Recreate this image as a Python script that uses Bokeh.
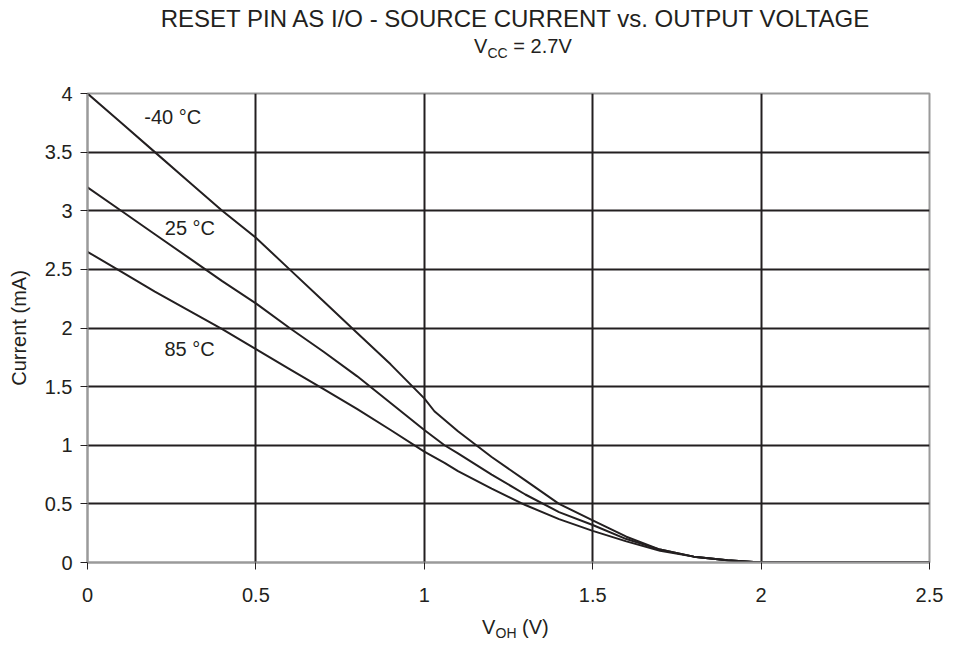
from bokeh.plotting import figure
from bokeh.models import Label, FixedTicker, Range1d, Div
from bokeh.layouts import column
from bokeh.embed import file_html
from bokeh.resources import INLINE

# ---- data ----
voh_m40 = [0, 0.1, 0.2, 0.3, 0.4, 0.5, 0.6, 0.7, 0.8, 0.9, 1.0, 1.03, 1.1, 1.2, 1.3, 1.4, 1.5, 1.6, 1.7, 1.8, 1.9, 2.0, 2.5]
cur_m40 = [4.0, 3.75, 3.5, 3.25, 3.0, 2.77, 2.5, 2.23, 1.96, 1.69, 1.40, 1.29, 1.12, 0.90, 0.70, 0.50, 0.36, 0.22, 0.11, 0.05, 0.02, 0.0, 0.0]

voh_25 = [0, 0.1, 0.2, 0.3, 0.4, 0.5, 0.6, 0.7, 0.8, 0.9, 1.0, 1.06, 1.1, 1.2, 1.3, 1.4, 1.5, 1.6, 1.7, 1.8, 1.9, 2.0, 2.5]
cur_25 = [3.2, 3.0, 2.80, 2.60, 2.40, 2.21, 2.0, 1.80, 1.59, 1.36, 1.13, 1.0, 0.93, 0.75, 0.58, 0.43, 0.32, 0.20, 0.11, 0.05, 0.02, 0.0, 0.0]

voh_85 = [0, 0.1, 0.2, 0.3, 0.4, 0.5, 0.6, 0.7, 0.8, 0.9, 1.0, 1.06, 1.1, 1.2, 1.3, 1.4, 1.5, 1.6, 1.7, 1.8, 1.9, 2.0, 2.5]
cur_85 = [2.65, 2.48, 2.31, 2.15, 1.99, 1.82, 1.65, 1.48, 1.31, 1.13, 0.945, 0.85, 0.78, 0.63, 0.49, 0.37, 0.27, 0.18, 0.10, 0.05, 0.02, 0.0, 0.0]

series_labels = ["-40 °C", "25 °C", "85 °C"]
label_x = [0.253, 0.304, 0.303]
label_y = [3.80, 2.85, 1.82]

x_ticks = [0, 0.5, 1, 1.5, 2, 2.5]
y_ticks = [0, 0.5, 1, 1.5, 2, 2.5, 3, 3.5, 4]

title_text = "RESET PIN AS I/O - SOURCE CURRENT vs. OUTPUT VOLTAGE"
subtitle_parts = ["V", "CC", "&nbsp;= 2.7V"]
xlabel_parts = ["V", "OH", "&nbsp;(V)"]
ylabel_text = "Current (mA)"

FONT = "Liberation Sans"
INK = "#231f20"
GRAYLINE = "#9a9a9a"
W = 943
TOP_H = 70
BOT_H = 30
FIG_H = 640 - TOP_H - BOT_H
FRAME_TOP = 93      # canvas px
FRAME_BOTTOM = 562  # canvas px

p = figure(width=W, height=FIG_H, output_backend="svg", toolbar_location=None,
           x_range=Range1d(0, 2.5), y_range=Range1d(0, 4),
           min_border_left=87, min_border_right=14, min_border_top=FRAME_TOP - TOP_H,
           min_border_bottom=TOP_H + FIG_H - FRAME_BOTTOM)
p.background_fill_color = "white"
p.border_fill_color = "white"
p.outline_line_color = GRAYLINE
p.outline_line_width = 2

# grid
p.xgrid.ticker = FixedTicker(ticks=x_ticks[1:-1])
p.ygrid.ticker = FixedTicker(ticks=y_ticks[1:-1])
for g in (p.xgrid, p.ygrid):
    g.grid_line_color = INK
    g.grid_line_width = 2
    g.grid_line_alpha = 1.0

# axes
p.xaxis.ticker = FixedTicker(ticks=x_ticks)
p.yaxis.ticker = FixedTicker(ticks=y_ticks)
p.xaxis.major_label_overrides = {t: (str(t) if t != int(t) else str(int(t))) for t in x_ticks}
p.yaxis.major_label_overrides = {t: (str(t) if t != int(t) else str(int(t))) for t in y_ticks}
for ax in (p.xaxis, p.yaxis):
    ax.axis_line_color = GRAYLINE
    ax.axis_line_width = 2
    ax.major_tick_line_color = INK
    ax.major_tick_line_width = 1
    ax.major_tick_out = 7
    ax.major_tick_in = 0
    ax.minor_tick_line_color = None
    ax.major_label_text_font = FONT
    ax.major_label_text_font_size = "20px"
    ax.major_label_text_color = INK
p.xaxis.major_label_standoff = 18
p.yaxis.major_label_standoff = 8
p.yaxis.axis_label = ylabel_text
p.yaxis.axis_label_text_font = FONT
p.yaxis.axis_label_text_font_size = "20px"
p.yaxis.axis_label_text_font_style = "normal"
p.yaxis.axis_label_text_color = INK
p.yaxis.axis_label_standoff = 12

# curves
for xs, ys in ((voh_m40, cur_m40), (voh_25, cur_25), (voh_85, cur_85)):
    p.line(xs, ys, line_color=INK, line_width=2)

# series labels
for t, lx, ly in zip(series_labels, label_x, label_y):
    p.add_layout(Label(x=lx, y=ly, text=t, text_align="center", text_baseline="middle",
                       text_font=FONT, text_font_size="20px", text_color=INK))


def piece(text, left, baseline, size, align="left", width=None):
    top = baseline - 0.8465 * size
    style = (f"position:absolute;top:{top:.1f}px;font-size:{size}px;line-height:{size}px;"
             f"white-space:nowrap;")
    if align == "center":
        style += f"left:{left - width / 2:.1f}px;width:{width}px;text-align:center;"
    else:
        style += f"left:{left:.1f}px;"
    return f'<div style="{style}">{text}</div>'


box = (f"position:relative;width:{W}px;height:{{h}}px;overflow:visible;"
       f"font-family:'{FONT}',Arial,sans-serif;color:{INK};")

top_html = (f'<div style="{box.format(h=TOP_H)}">'
            + piece(title_text, 515, 27.5, 24, align="center", width=900)
            + piece(subtitle_parts[0], 474, 53, 20)
            + piece(subtitle_parts[1], 487.5, 58, 14)
            + piece(subtitle_parts[2], 507.8, 53, 20)
            + '</div>')

yb = TOP_H + FIG_H  # canvas y of the bottom div's top
bot_html = (f'<div style="{box.format(h=BOT_H)}">'
            + piece(xlabel_parts[0], 482, 634 - yb, 20)
            + piece(xlabel_parts[1], 495.5, 638 - yb, 14)
            + piece(xlabel_parts[2], 516.5, 634 - yb, 20)
            + '</div>')

top_div = Div(text=top_html, width=W, height=TOP_H, margin=0)
bot_div = Div(text=bot_html, width=W, height=BOT_H, margin=0)

layout = column(top_div, p, bot_div, spacing=0)

open("out.html", "w").write(file_html(layout, INLINE))
